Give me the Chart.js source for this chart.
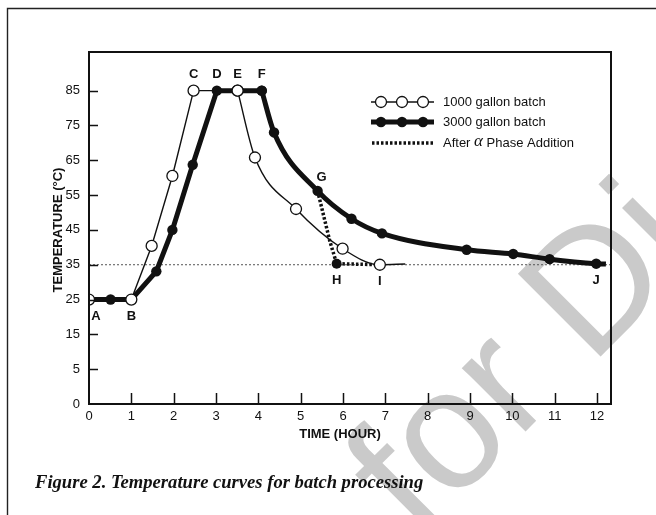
<!DOCTYPE html>
<html>
<head>
<meta charset="utf-8">
<script src="https://cdn.jsdelivr.net/npm/chart.js@4.4.1/dist/chart.umd.min.js"></script>
<style>
  html, body { margin: 0; padding: 0; background: #fff; }
  #wrap { position: relative; width: 656px; height: 515px; overflow: hidden; }
  canvas { display: block; }
  #caption {
    position: absolute; left: 35px; top: 471px;
    font: italic bold 18.6px "Liberation Serif", "DejaVu Serif", serif;
    color: #111; white-space: nowrap;
  }
</style>
</head>
<body>
<div id="wrap">
  <canvas id="tempChart" width="656" height="515"></canvas>
  <div id="caption">Figure 2. Temperature curves for batch processing</div>
</div>
<script>
// axis ticks
const timeTicks = [0, 1, 2, 3, 4, 5, 6, 7, 8, 9, 10, 11, 12];
const tempTicks = [-5, 5, 15, 25, 35, 45, 55, 65, 75, 85];
const tempTickLabels = ["0", "5", "15", "25", "35", "45", "55", "65", "75", "85"];

// 1000 gallon batch (open circles)
const time1000 = [0, 1, 1.48, 1.97, 2.47, 3.51, 3.92, 4.89, 5.99, 6.87, 7.47];
const temp1000 = [25, 25, 40.4, 60.5, 85, 85, 65.8, 51, 39.6, 35, 35.2];
const marks1000 = ["A", "B", "", "", "C", "E", "", "", "", "I", ""];

// 3000 gallon batch (filled circles)
const time3000 = [0, 0.51, 1, 1.59, 1.97, 2.45, 3.02, 4.08, 4.37, 5.4, 6.2, 6.92, 8.92, 10.02, 10.88, 11.98, 12.21];
const temp3000 = [25, 25, 25, 33.1, 45, 63.7, 85, 85, 73, 56.2, 48.2, 44, 39.3, 38.1, 36.6, 35.3, 35.2];
const marks3000 = ["", "", "", "", "", "", "D", "F", "", "G", "", "", "", "", "", "J", ""];

// after alpha phase addition (dotted)
const timeAlpha = [5.4, 5.69, 5.85, 6.87];
const tempAlpha = [56.2, 41.7, 35.3, 35];
const marksAlpha = ["", "", "H", ""];

const refTemp = 35;
const legendLabels = ["1000 gallon batch", "3000 gallon batch", "After ", "α", " Phase Addition"];

const INK = "#111";
const SANS = '"Liberation Sans", Arial, Helvetica, sans-serif';

// heating part is drawn straight, cooling part as a smooth curve
const coolFrom1000 = 5; // E
const coolFrom3000 = 7; // F

function pts(xs, ys, from, to) {
  return xs.slice(from, to).map((x, i) => ({ x: x, y: ys[from + i] }));
}
const hideLast = r => ctx => (ctx.dataIndex === ctx.dataset.data.length - 1 ? 0 : r);

const thin = {
  borderColor: INK, borderWidth: 1.4,
  pointBackgroundColor: "#fff", pointBorderColor: INK, pointBorderWidth: 1.3
};
const thick = {
  borderColor: INK, borderWidth: 5,
  pointBackgroundColor: INK, pointBorderColor: INK, pointBorderWidth: 0
};

const datasets = [
  Object.assign({ data: pts(time1000, temp1000, coolFrom1000), cubicInterpolationMode: "monotone", pointRadius: hideLast(5.5) }, thin),
  Object.assign({ data: pts(time1000, temp1000, 0, coolFrom1000 + 1), tension: 0, pointRadius: 5.5 }, thin),
  {
    data: pts(timeAlpha, tempAlpha, 0), tension: 0,
    borderColor: INK, borderWidth: 3.5, borderDash: [2.5, 2],
    pointRadius: ctx => (marksAlpha[ctx.dataIndex] ? 5 : 0),
    pointBackgroundColor: INK, pointBorderWidth: 0
  },
  Object.assign({ data: pts(time3000, temp3000, coolFrom3000), cubicInterpolationMode: "monotone", pointRadius: hideLast(5.2) }, thick),
  Object.assign({ data: pts(time3000, temp3000, 0, coolFrom3000 + 1), tension: 0, pointRadius: 5.2 }, thick),
  {
    data: [{ x: 0, y: refTemp }, { x: 12.33, y: refTemp }],
    borderColor: "#555", borderWidth: 1, borderDash: [2, 2], pointRadius: 0
  }
];

const decor = {
  id: "decor",
  beforeDraw(chart) {
    const ctx = chart.ctx;
    ctx.save();
    ctx.fillStyle = "#fff";
    ctx.fillRect(0, 0, chart.width, chart.height);
    // watermark
    ctx.translate(417, 540);
    ctx.rotate(-Math.PI / 4);
    ctx.fillStyle = "#cacaca";
    ctx.font = "170px " + SANS;
    ctx.fillText("for Distribution", 0, 0);
    ctx.restore();
    // outer frame
    ctx.save();
    ctx.strokeStyle = "#222";
    ctx.lineWidth = 1.4;
    ctx.beginPath();
    ctx.moveTo(656, 8.5);
    ctx.lineTo(7.5, 8.5);
    ctx.lineTo(7.5, 515);
    ctx.stroke();
    ctx.restore();
  },
  afterDraw(chart) {
    const ctx = chart.ctx;
    const a = chart.chartArea;
    const xs = chart.scales.x, ys = chart.scales.y;
    ctx.save();
    ctx.strokeStyle = INK;
    // tick marks pointing inwards
    ctx.lineWidth = 1.5;
    ctx.beginPath();
    tempTicks.slice(1).forEach(v => {
      const y = Math.round(ys.getPixelForValue(v)) + 0.5;
      ctx.moveTo(a.left, y); ctx.lineTo(a.left + 9, y);
    });
    timeTicks.slice(1).forEach(v => {
      const x = Math.round(xs.getPixelForValue(v)) + 0.5;
      ctx.moveTo(x, a.bottom); ctx.lineTo(x, a.bottom - 11);
    });
    ctx.stroke();
    // plot box
    ctx.lineWidth = 2;
    ctx.strokeRect(a.left, a.top, a.right - a.left, a.bottom - a.top);

    // axis titles
    ctx.fillStyle = INK;
    ctx.font = "bold 13px " + SANS;
    ctx.textAlign = "center";
    ctx.textBaseline = "middle";
    ctx.fillText("TIME (HOUR)", 340, 434);
    ctx.save();
    ctx.translate(58, 230);
    ctx.rotate(-Math.PI / 2);
    ctx.fillText("TEMPERATURE (°C)", 0, 0);
    ctx.restore();

    // point letters
    ctx.font = "bold 13px " + SANS;
    const above = ["C", "D", "E", "F", "G"];
    const nudge = { A: 7, G: 4 };
    const letters = (tx, ty, mk) => mk.forEach((m, i) => {
      if (!m) return;
      const px = xs.getPixelForValue(tx[i]) + (nudge[m] || 0);
      const py = ys.getPixelForValue(ty[i]);
      ctx.fillText(m, px, above.includes(m) ? py - (m === "G" ? 13 : 16) : py + 17);
    });
    letters(time1000, temp1000, marks1000);
    letters(time3000, temp3000, marks3000);
    letters(timeAlpha, tempAlpha, marksAlpha);

    // legend
    const lx0 = 371, lx1 = 434, dots = [381, 402, 423], rows = [102, 122, 143], tx = 443;
    ctx.lineWidth = 1.3;
    ctx.beginPath(); ctx.moveTo(lx0, rows[0]); ctx.lineTo(lx1, rows[0]); ctx.stroke();
    dots.forEach(x => {
      ctx.beginPath(); ctx.arc(x, rows[0], 5.5, 0, Math.PI * 2);
      ctx.fillStyle = "#fff"; ctx.fill(); ctx.stroke();
    });
    ctx.lineWidth = 5;
    ctx.beginPath(); ctx.moveTo(lx0, rows[1]); ctx.lineTo(lx1, rows[1]); ctx.stroke();
    ctx.fillStyle = INK;
    dots.forEach(x => { ctx.beginPath(); ctx.arc(x, rows[1], 5.2, 0, Math.PI * 2); ctx.fill(); });
    ctx.lineWidth = 3.5;
    ctx.setLineDash([2.5, 2]);
    ctx.beginPath(); ctx.moveTo(lx0 + 1, rows[2]); ctx.lineTo(lx1, rows[2]); ctx.stroke();
    ctx.setLineDash([]);

    ctx.textAlign = "left";
    ctx.font = "13px " + SANS;
    ctx.fillText(legendLabels[0], tx, rows[0]);
    ctx.fillText(legendLabels[1], tx, rows[1]);
    let x = tx;
    ctx.fillText(legendLabels[2], x, rows[2]);
    x += ctx.measureText(legendLabels[2]).width;
    ctx.font = 'italic 17px "Liberation Serif", serif';
    ctx.fillText(legendLabels[3], x, rows[2] - 1);
    x += ctx.measureText(legendLabels[3]).width;
    ctx.font = "13px " + SANS;
    ctx.fillText(legendLabels[4], x, rows[2]);
    ctx.restore();
  }
};

new Chart(document.getElementById("tempChart"), {
  type: "line",
  data: { datasets: datasets },
  options: {
    responsive: false,
    animation: false,
    devicePixelRatio: 1,
    layout: { padding: { top: 52, right: 45, left: 0, bottom: 0 } },
    plugins: { legend: { display: false }, tooltip: { enabled: false } },
    scales: {
      x: {
        type: "linear", min: 0, max: 12.33,
        afterBuildTicks: s => { s.ticks = timeTicks.map(v => ({ value: v })); },
        afterFit: s => { s.height = 111; },
        grid: { display: false, drawTicks: false },
        border: { display: false },
        ticks: { padding: 5, color: INK, autoSkip: false, maxRotation: 0, font: { family: SANS, size: 13 } }
      },
      y: {
        type: "linear", min: -5, max: 96.1,
        afterBuildTicks: s => { s.ticks = tempTicks.map(v => ({ value: v })); },
        afterFit: s => { s.width = 89; },
        grid: { display: false, drawTicks: false },
        border: { display: false },
        ticks: {
          padding: 9, color: INK, autoSkip: false,
          font: { family: SANS, size: 13 },
          callback: (v, i) => tempTickLabels[i]
        }
      }
    }
  },
  plugins: [decor]
});
</script>
</body>
</html>
